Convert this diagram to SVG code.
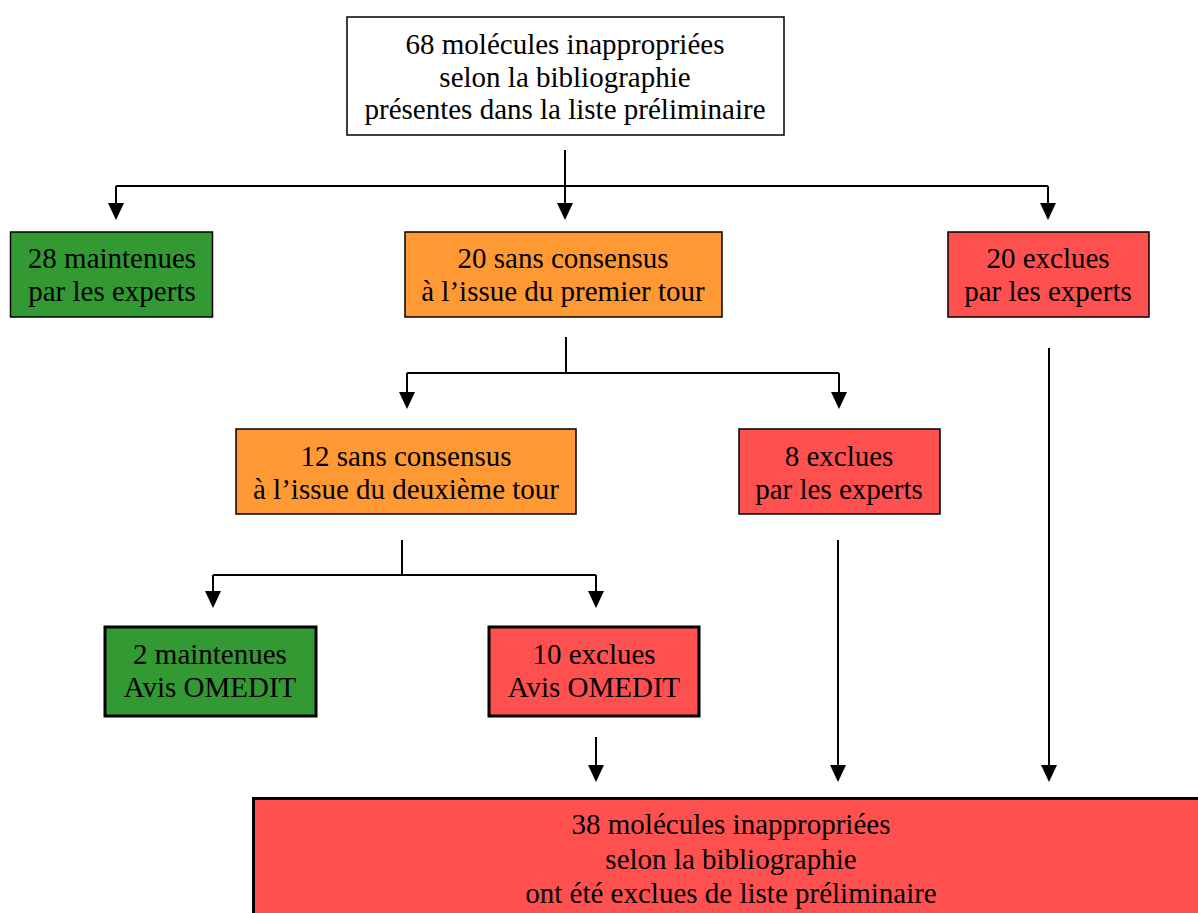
<svg xmlns="http://www.w3.org/2000/svg" width="1198" height="913" viewBox="0 0 1198 913">
  <style>
    .box { stroke: #000; stroke-width: 1.5; }
    .thick { stroke-width: 3; }
    .white { fill: #fff; }
    .green { fill: #339933; }
    .orange { fill: #ff9933; }
    .red { fill: #ff5050; }
    .conn { fill: none; stroke: #000; stroke-width: 2; }
  </style>

  <!-- connectors -->
  <g id="connectors">
    <path class="conn" d="M565,150 V186"/>
    <path class="conn" d="M116,186 H1048"/>
    <path class="conn" d="M116,186 V203"/>
    <path class="conn" d="M565,186 V203"/>
    <path class="conn" d="M1048,186 V203"/>

    <path class="conn" d="M566,337 V373"/>
    <path class="conn" d="M407,373 H839"/>
    <path class="conn" d="M407,373 V392"/>
    <path class="conn" d="M839,373 V392"/>

    <path class="conn" d="M402,540 V575"/>
    <path class="conn" d="M213,575 H596"/>
    <path class="conn" d="M213,575 V591"/>
    <path class="conn" d="M596,575 V591"/>

    <path class="conn" d="M596,737 V765"/>
    <path class="conn" d="M838,540 V765"/>
    <path class="conn" d="M1049,348 V765"/>

    <g fill="#000">
      <polygon points="108,203 124,203 116,220"/>
      <polygon points="557,203 573,203 565,220"/>
      <polygon points="1040,203 1056,203 1048,220"/>
      <polygon points="399,392 415,392 407,409"/>
      <polygon points="831,392 847,392 839,409"/>
      <polygon points="205,591 221,591 213,608"/>
      <polygon points="588,591 604,591 596,608"/>
      <polygon points="588,765 604,765 596,782"/>
      <polygon points="830,765 846,765 838,782"/>
      <polygon points="1041,765 1057,765 1049,782"/>
    </g>
  </g>

  <g font-family="Liberation Serif, DejaVu Serif, serif" font-size="29" text-anchor="middle" fill="#000">
  <!-- top box -->
  <g id="n-start">
    <rect class="box white" x="347" y="17" width="437" height="118"/>
    <text x="565" y="54">68 molécules inappropriées</text>
    <text x="565" y="87">selon la bibliographie</text>
    <text x="565" y="119">présentes dans la liste préliminaire</text>
  </g>

  <g id="n-maintenues-28">
    <rect class="box green" x="10.5" y="232" width="202" height="85"/>
    <text x="112" y="268">28 maintenues</text>
    <text x="112" y="301">par les experts</text>
  </g>

  <g id="n-sans-consensus-20">
    <rect class="box orange" x="405" y="232" width="317" height="85"/>
    <text x="563" y="268">20 sans consensus</text>
    <text x="563" y="301">à l’issue du premier tour</text>
  </g>

  <g id="n-exclues-20">
    <rect class="box red" x="948" y="232" width="201" height="85"/>
    <text x="1048" y="268">20 exclues</text>
    <text x="1048" y="301">par les experts</text>
  </g>

  <g id="n-sans-consensus-12">
    <rect class="box orange" x="236" y="429" width="340" height="85"/>
    <text x="406" y="466">12 sans consensus</text>
    <text x="406" y="499">à l’issue du deuxième tour</text>
  </g>

  <g id="n-exclues-8">
    <rect class="box red" x="739" y="429" width="201" height="85"/>
    <text x="839" y="466">8 exclues</text>
    <text x="839" y="499">par les experts</text>
  </g>

  <g id="n-maintenues-2">
    <rect class="box thick green" x="105" y="627" width="211" height="89"/>
    <text x="210" y="664">2 maintenues</text>
    <text x="210" y="697">Avis OMEDIT</text>
  </g>

  <g id="n-exclues-10">
    <rect class="box thick red" x="489" y="627" width="210" height="89"/>
    <text x="594" y="664">10 exclues</text>
    <text x="594" y="697">Avis OMEDIT</text>
  </g>

  <g id="n-final">
    <rect class="box thick red" x="253.5" y="798.5" width="960" height="130"/>
    <text x="731" y="834">38 molécules inappropriées</text>
    <text x="731" y="869">selon la bibliographie</text>
    <text x="731" y="903">ont été exclues de liste préliminaire</text>
  </g>
  </g>
</svg>
